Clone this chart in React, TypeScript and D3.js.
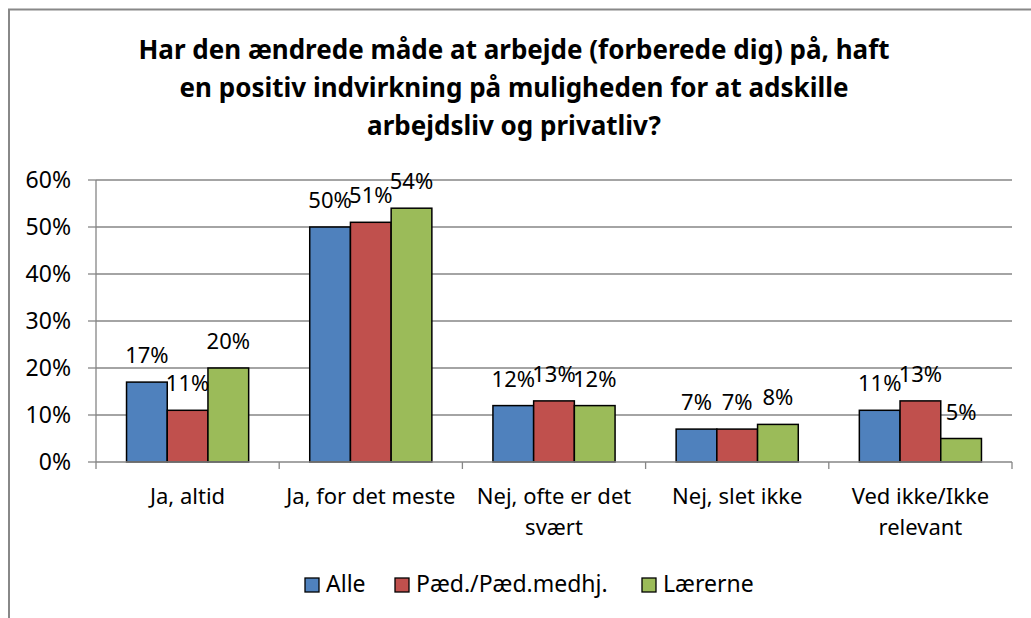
import * as d3 from "d3";

const categories = [
  ["Ja, altid"],
  ["Ja, for det meste"],
  ["Nej, ofte er det", "svært"],
  ["Nej, slet ikke"],
  ["Ved ikke/Ikke", "relevant"],
];
const seriesNames = ["Alle", "Pæd./Pæd.medhj.", "Lærerne"];
const alle = [17, 50, 12, 7, 11];
const paed = [11, 51, 13, 7, 13];
const laererne = [20, 54, 12, 8, 5];
const yTicks = [0, 10, 20, 30, 40, 50, 60];
const titleLines = [
  "Har den ændrede måde at arbejde (forberede dig) på, haft",
  "en positiv indvirkning på muligheden for at adskille",
  "arbejdsliv og privatliv?",
];

const colors = ["#4f81bd", "#c0504d", "#9bbb59"];
const font = "Noto Sans, sans-serif";

const W = 1031;
const H = 618;
const left = 96;
const right = 1012;
const top = 180;
const bottom = 462;

const App = () => {
  const series = [alle, paed, laererne];
  const keys = categories.map((_, i) => String(i));
  const x = d3.scaleBand<string>().domain(keys).range([left, right]);
  // gap width 150%: three bars per group, half a gap on each side
  const barW = x.bandwidth() / (3 + 1.5);
  const barX = (ci: number, si: number) =>
    (x(String(ci)) ?? 0) + barW * 0.75 + si * barW;
  const y = d3.scaleLinear().domain([0, 60]).range([bottom, top]);

  const legendX = [305, 395, 642];

  return (
    <svg
      width={W}
      height={H}
      viewBox={`0 0 ${W} ${H}`}
      style={{ position: "absolute", left: 0, top: 0, background: "#fff" }}
      fontFamily={font}
    >
      <rect x={0} y={0} width={W} height={H} fill="#fff" />
      <path d={`M9,${H} V9.5 H${W}`} fill="none" stroke="#888" strokeWidth={2} />

      <g fontWeight="bold" fontSize={26} textAnchor="middle" fill="#000">
        {titleLines.map((t, i) => (
          <text key={i} x={514} y={59 + i * 38}>
            {t}
          </text>
        ))}
      </g>

      {yTicks.map((t) => (
        <g key={t}>
          {t > 0 && (
            <line x1={left} x2={right} y1={y(t)} y2={y(t)} stroke="#868686" strokeWidth={1.3} />
          )}
          <line x1={left - 8} x2={left} y1={y(t)} y2={y(t)} stroke="#868686" strokeWidth={1.3} />
          <text x={71} y={y(t)} dy="0.36em" textAnchor="end" fontSize={23}>
            {t}%
          </text>
        </g>
      ))}

      {series.map((vals, si) =>
        vals.map((v, ci) => (
          <rect
            key={`${si}-${ci}`}
            x={barX(ci, si)}
            y={y(v)}
            width={barW}
            height={bottom - y(v)}
            fill={colors[si]}
            stroke="#000"
            strokeWidth={1.5}
          />
        ))
      )}

      <line x1={left} x2={left} y1={top} y2={bottom} stroke="#868686" strokeWidth={1.3} />
      <line x1={left} x2={right} y1={bottom} y2={bottom} stroke="#868686" strokeWidth={1.3} />
      {d3.range(categories.length + 1).map((i) => {
        const px = left + i * x.step();
        return <line key={i} x1={px} x2={px} y1={bottom} y2={bottom + 7} stroke="#868686" strokeWidth={1.3} />;
      })}

      {series.map((vals, si) =>
        vals.map((v, ci) => (
          <text
            key={`l${si}-${ci}`}
            x={barX(ci, si) + barW / 2}
            y={y(v) - 19}
            textAnchor="middle"
            fontSize={22}
          >
            {v}%
          </text>
        ))
      )}

      {categories.map((lines, ci) => (
        <text
          key={ci}
          x={(x(String(ci)) ?? 0) + x.bandwidth() / 2}
          textAnchor="middle"
          fontSize={22}
        >
          {lines.map((l, li) => (
            <tspan key={li} x={(x(String(ci)) ?? 0) + x.bandwidth() / 2} y={504 + li * 31}>
              {l}
            </tspan>
          ))}
        </text>
      ))}

      {seriesNames.map((n, i) => (
        <g key={n}>
          <rect x={legendX[i]} y={578} width={14} height={14} fill={colors[i]} stroke="#000" strokeWidth={1.3} />
          <text x={legendX[i] + 21} y={592} fontSize={23}>
            {n}
          </text>
        </g>
      ))}
    </svg>
  );
};

export default App;
